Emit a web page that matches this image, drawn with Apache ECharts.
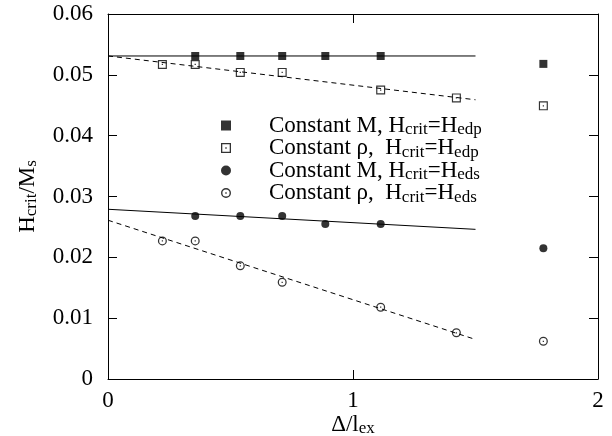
<!DOCTYPE html>
<html>
<head>
<meta charset="utf-8">
<script src="https://cdn.jsdelivr.net/npm/echarts@6/dist/echarts.min.js"></script>
<style>
  html, body { margin: 0; padding: 0; background: #fff; }
  #chart { width: 612px; height: 436px; }
</style>
</head>
<body>
<div id="chart"></div>
<script>
// measured points
const constMEdpX = [0.356, 0.54, 0.711, 0.887, 1.113, 1.777];
const constMEdpY = [0.0531, 0.0531, 0.0531, 0.0531, 0.0531, 0.0518];
const constRhoEdpX = [0.222, 0.356, 0.54, 0.711, 1.113, 1.422, 1.777];
const constRhoEdpY = [0.0517, 0.0517, 0.0504, 0.0504, 0.0475, 0.0462, 0.0449];
const constMEdsX = [0.356, 0.54, 0.711, 0.887, 1.113, 1.777];
const constMEdsY = [0.0268, 0.0268, 0.0268, 0.0255, 0.0255, 0.0215];
const constRhoEdsX = [0.222, 0.356, 0.54, 0.711, 1.113, 1.422, 1.777];
const constRhoEdsY = [0.0227, 0.0227, 0.0186, 0.0159, 0.0118, 0.0076, 0.0062];

// fit lines (end points)
const fitX = [0, 1.5];
const fitMEdpY = [0.0531, 0.0531];
const fitRhoEdpY = [0.0531, 0.0459];
const fitMEdsY = [0.0279, 0.0246];
const fitRhoEdsY = [0.0261, 0.0065];

const legendNames = [
  'Constant M, H{sub|crit}=H{sub|edp}',
  'Constant ρ,  H{sub|crit}=H{sub|edp}',
  'Constant M, H{sub|crit}=H{sub|eds}',
  'Constant ρ,  H{sub|crit}=H{sub|eds}'
];

const FONT = '"Liberation Serif", "DejaVu Serif", serif';

// symbols: hollow with a centre dot
const openSquare = 'path://M0 0L10 0L10 10L0 10Z M1.3 1.3L1.3 8.7L8.7 8.7L8.7 1.3Z M4.3 4.3L5.7 4.3L5.7 5.7L4.3 5.7Z';
const openCircle = 'path://M0 5A5 5 0 1 1 10 5A5 5 0 1 1 0 5Z M1.4 5A3.6 3.6 0 1 0 8.6 5A3.6 3.6 0 1 0 1.4 5Z M4.3 4.3L5.7 4.3L5.7 5.7L4.3 5.7Z';

function pairs(xs, ys) {
  return xs.map((x, i) => [x, ys[i]]);
}

const subRich = {
  sub: { fontSize: 17, lineHeight: 14, fontFamily: FONT, color: '#000', padding: [9, 0, 0, 0] }
};

const chart = echarts.init(document.getElementById('chart'));

const axisCommon = {
  axisLine: { show: true, onZero: false, lineStyle: { color: '#000', width: 1 } },
  axisTick: { show: true, inside: true, length: 9, lineStyle: { color: '#000' } },
  splitLine: { show: false }
};

const option = {
  backgroundColor: '#fff',
  animation: false,
  grid: { left: 108, right: 14, top: 14, bottom: 57, outerBoundsMode: 'none', containLabel: false },
  legend: {
    orient: 'vertical',
    left: 216,
    top: 107.5,
    itemWidth: 10,
    itemHeight: 10,
    itemGap: -3.5,
    data: legendNames,
    formatter: function (name) {
      return '{g|}' + name;
    },
    textStyle: {
      fontFamily: FONT,
      fontSize: 23,
      lineHeight: 22,
      color: '#000',
      rich: Object.assign({ g: { width: 33 } }, subRich)
    }
  },
  xAxis: [
    Object.assign({}, axisCommon, {
      type: 'value',
      min: 0,
      max: 2,
      interval: 1,
      position: 'bottom',
      name: 'Δ/l{sub|ex}',
      nameLocation: 'middle',
      nameGap: 34,
      nameMoveOverlap: false,
      nameTextStyle: { fontFamily: FONT, fontSize: 23, color: '#000', rich: subRich },
      axisLabel: { fontFamily: FONT, fontSize: 23, color: '#000', margin: 10 }
    }),
    Object.assign({}, axisCommon, {
      type: 'value',
      min: 0,
      max: 2,
      interval: 1,
      position: 'top',
      axisLabel: { show: false }
    })
  ],
  yAxis: [
    Object.assign({}, axisCommon, {
      type: 'value',
      min: 0,
      max: 0.06,
      interval: 0.01,
      position: 'left',
      name: 'H{sub|crit}/M{sub|s}',
      nameLocation: 'middle',
      nameGap: 69,
      nameMoveOverlap: false,
      nameTextStyle: { fontFamily: FONT, fontSize: 23, color: '#000', rich: subRich },
      axisLabel: {
        fontFamily: FONT, fontSize: 23, color: '#000', margin: 15,
        formatter: function (v) { return v === 0 ? '0' : v.toFixed(2); }
      }
    }),
    Object.assign({}, axisCommon, {
      type: 'value',
      min: 0,
      max: 0.06,
      interval: 0.01,
      position: 'right',
      axisLabel: { show: false }
    })
  ],
  series: [
    {
      name: legendNames[0], type: 'scatter', symbol: 'rect', symbolSize: 8,
      itemStyle: { color: '#000' }, data: pairs(constMEdpX, constMEdpY), z: 5
    },
    {
      name: legendNames[1], type: 'scatter', symbol: openSquare, symbolSize: 9,
      itemStyle: { color: '#000' }, data: pairs(constRhoEdpX, constRhoEdpY), z: 5
    },
    {
      name: legendNames[2], type: 'scatter', symbol: 'circle', symbolSize: 8,
      itemStyle: { color: '#000' }, data: pairs(constMEdsX, constMEdsY), z: 5
    },
    {
      name: legendNames[3], type: 'scatter', symbol: openCircle, symbolSize: 9,
      itemStyle: { color: '#000' }, data: pairs(constRhoEdsX, constRhoEdsY), z: 5
    },
    {
      type: 'line', showSymbol: false, symbol: 'none', data: pairs(fitX, fitMEdpY),
      lineStyle: { color: '#000', width: 1 }
    },
    {
      type: 'line', showSymbol: false, symbol: 'none', data: pairs(fitX, fitRhoEdpY),
      lineStyle: { color: '#000', width: 1, type: [5, 4] }
    },
    {
      type: 'line', showSymbol: false, symbol: 'none', data: pairs(fitX, fitMEdsY),
      lineStyle: { color: '#000', width: 1 }
    },
    {
      type: 'line', showSymbol: false, symbol: 'none', data: pairs(fitX, fitRhoEdsY),
      lineStyle: { color: '#000', width: 1, type: [5, 4] }
    }
  ]
};

chart.setOption(option);
</script>
</body>
</html>
